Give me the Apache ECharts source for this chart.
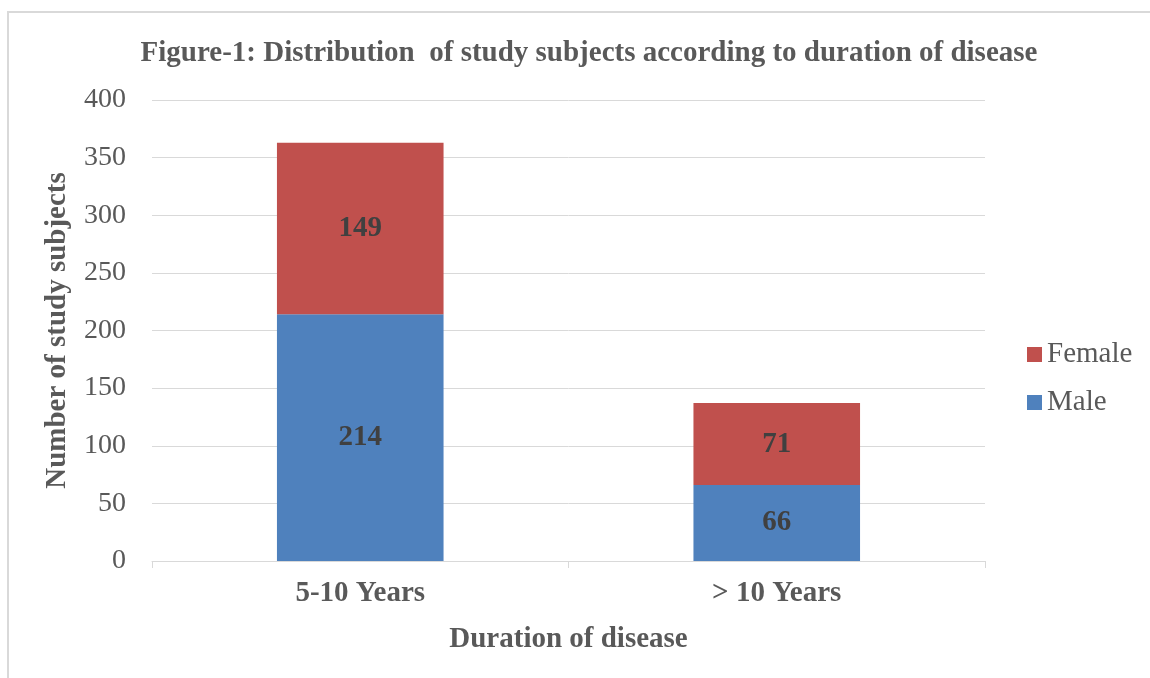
<!DOCTYPE html>
<html><head><meta charset="utf-8">
<script src="https://cdn.jsdelivr.net/npm/echarts@6/dist/echarts.min.js"></script>
<style>html,body{margin:0;padding:0;background:#fff}#c{width:1150px;height:678px}</style>
</head><body><div id="c"></div>
<script>
const categories = ['5-10 Years', '> 10 Years'];
const maleValues = [214, 66];
const femaleValues = [149, 71];
const yTicks = [0, 400, 50];

const chart = echarts.init(document.getElementById('c'));
const font = '"Liberation Serif", "Times New Roman", serif';
const labelStyle = {show: true, position: 'inside', fontFamily: font, fontSize: 29, fontWeight: 'bold', color: '#404040'};
chart.setOption({
  animation: false,
  textStyle: {fontFamily: font},
  graphic: [{type: 'rect', shape: {x: 8, y: 12, width: 1170, height: 700}, style: {fill: 'none', stroke: '#d9d9d9', lineWidth: 2}, silent: true}],
  title: {text: 'Figure-1: Distribution  of study subjects according to duration of disease', left: 584, textAlign: 'center', top: 34,
    textStyle: {fontFamily: font, fontSize: 29, fontWeight: 'bold', color: '#595959'}},
  legend: {orient: 'vertical', left: 1022, top: 335, itemWidth: 15, itemHeight: 15, itemGap: 19,
    data: ['Female', 'Male'], icon: 'rect',
    textStyle: {fontFamily: font, fontSize: 29, color: '#595959'}},
  grid: {left: 152, right: 165, top: 100, bottom: 117},
  xAxis: {type: 'category', data: categories,
    axisLine: {lineStyle: {color: '#d9d9d9', width: 1}},
    axisTick: {show: true, length: 7, lineStyle: {color: '#d9d9d9'}},
    axisLabel: {fontFamily: font, fontSize: 29, fontWeight: 'bold', color: '#595959', margin: 18},
    name: 'Duration of disease', nameLocation: 'middle', nameGap: 64,
    nameTextStyle: {fontFamily: font, fontSize: 29, fontWeight: 'bold', color: '#595959'}},
  yAxis: {type: 'value', min: yTicks[0], max: yTicks[1], interval: yTicks[2],
    axisLine: {show: false}, axisTick: {show: false},
    splitLine: {lineStyle: {color: '#d9d9d9', width: 1}},
    axisLabel: {fontFamily: font, fontSize: 28, color: '#595959', margin: 26},
    name: 'Number of study subjects', nameLocation: 'middle', nameGap: 80, nameRotate: 90,
    nameTextStyle: {fontFamily: font, fontSize: 29, fontWeight: 'bold', color: '#595959'}},
  series: [
    {name: 'Male', type: 'bar', stack: 'a', data: maleValues, barWidth: '40%', itemStyle: {color: '#4f81bd'}, label: labelStyle},
    {name: 'Female', type: 'bar', stack: 'a', data: femaleValues, barWidth: '40%', itemStyle: {color: '#c0504d'}, label: labelStyle}
  ]
});
</script></body></html>
